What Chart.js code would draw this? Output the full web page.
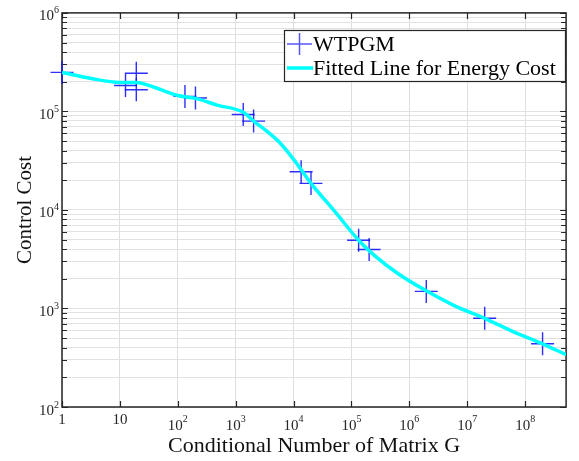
<!DOCTYPE html>
<html>
<head>
<meta charset="utf-8">
<script src="https://cdn.jsdelivr.net/npm/chart.js@4.4.0/dist/chart.umd.min.js"></script>
<style>
  html, body { margin: 0; padding: 0; background: #fff; }
  #wrap { width: 579px; height: 461px; position: relative; }
</style>
</head>
<body>
<div id="wrap"><canvas id="costChart"></canvas></div>
<script>
// measured points (WTPGM)
const xMeasured = [1, 12.5, 19.2, 19.2, 133, 202, 1350, 2040, 13500, 20000, 133000, 202000, 1.96e6, 2e7, 2e8];
const yMeasured = [2.49e5, 1.83e5, 2.44e5, 1.66e5, 1.42e5, 1.37e5, 9.3e4, 7.98e4, 2.44e4, 1.86e4, 4930, 3970, 1490, 795, 438];

// fitted line
const xFit = [1, 3.2, 10, 19.2, 40, 100, 218, 476, 1350, 2040, 3350, 5640, 10800, 20000, 51500, 133000, 245000, 650000, 1.96e6, 5.96e6, 2e7, 6.2e7, 2e8, 5.1e8];
const yFit = [2.49e5, 2.16e5, 1.97e5, 1.97e5, 1.75e5, 1.45e5, 1.34e5, 1.16e5, 9.8e4, 7.98e4, 6.4e4, 4.9e4, 3.08e4, 1.86e4, 9660, 4930, 3480, 2240, 1510, 1070, 794, 583, 438, 340];

// axis ticks
const xTickValues = [1, 10, 1e2, 1e3, 1e4, 1e5, 1e6, 1e7, 1e8];
const xTickLabels = ['1', '10', '10^2', '10^3', '10^4', '10^5', '10^6', '10^7', '10^8'];
const yTickValues = [1e2, 1e3, 1e4, 1e5, 1e6];
const yTickLabels = ['10^2', '10^3', '10^4', '10^5', '10^6'];
const yMinorTicks = [];
for (let e = 2; e < 6; e++) {
    for (let m = 2; m <= 9; m++) yMinorTicks.push(m * Math.pow(10, e));
}

const serif = '"Liberation Serif", "Times New Roman", serif';
const axisColor = '#262626';

function drawPowerLabel(ctx, label, x, y, align, supOffset) {
    const parts = label.split('^');
    ctx.font = '15px ' + serif;
    const baseW = ctx.measureText(parts[0]).width;
    let supW = 0;
    if (parts[1]) {
        ctx.font = '10px ' + serif;
        supW = ctx.measureText(parts[1]).width;
    }
    let start = align === 'center' ? x - (baseW + supW) / 2 : x - baseW - supW;
    ctx.textAlign = 'left';
    ctx.font = '15px ' + serif;
    ctx.fillText(parts[0], start, y);
    if (parts[1]) {
        ctx.font = '10px ' + serif;
        ctx.fillText(parts[1], start + baseW, y - supOffset);
    }
}

const framePlugin = {
    id: 'frame',
    beforeDatasetsDraw(chart) {
        const ctx = chart.ctx;
        const a = chart.chartArea;
        const xs = chart.scales.x;
        const ys = chart.scales.y;
        ctx.save();
        ctx.strokeStyle = axisColor;

        // ticks inside the box
        ctx.lineWidth = 1.2;
        ctx.beginPath();
        xTickValues.forEach(v => {
            const px = Math.round(xs.getPixelForValue(v)) + 0.5;
            ctx.moveTo(px, a.bottom); ctx.lineTo(px, a.bottom - 6);
            ctx.moveTo(px, a.top); ctx.lineTo(px, a.top + 6);
        });
        yTickValues.forEach(v => {
            const py = Math.round(ys.getPixelForValue(v)) + 0.5;
            ctx.moveTo(a.left, py); ctx.lineTo(a.left + 6, py);
            ctx.moveTo(a.right, py); ctx.lineTo(a.right - 6, py);
        });
        yMinorTicks.forEach(v => {
            const py = Math.round(ys.getPixelForValue(v)) + 0.5;
            ctx.moveTo(a.left, py); ctx.lineTo(a.left + 5, py);
            ctx.moveTo(a.right, py); ctx.lineTo(a.right - 5, py);
        });
        ctx.stroke();

        // box
        ctx.lineWidth = 1.5;
        ctx.strokeRect(a.left, a.top, a.right - a.left, a.bottom - a.top);
        ctx.restore();
    },
    afterDraw(chart) {
        const ctx = chart.ctx;
        const a = chart.chartArea;
        const xs = chart.scales.x;
        const ys = chart.scales.y;
        ctx.save();

        // tick labels
        ctx.fillStyle = axisColor;
        ctx.textBaseline = 'alphabetic';
        xTickValues.forEach((v, i) => {
            const px = xs.getPixelForValue(v);
            const lab = xTickLabels[i];
            const base = lab.indexOf('^') >= 0 ? a.bottom + 23 : a.bottom + 17;
            drawPowerLabel(ctx, lab, px, base, 'center', 8);
        });
        yTickValues.forEach((v, i) => {
            const py = ys.getPixelForValue(v);
            drawPowerLabel(ctx, yTickLabels[i], a.left - 3, py + 7.5, 'right', 7);
        });

        // axis titles
        ctx.fillStyle = '#111';
        ctx.font = '22px ' + serif;
        ctx.textAlign = 'center';
        ctx.fillText('Conditional Number of Matrix G', (a.left + a.right) / 2, 452);
        ctx.save();
        ctx.translate(31, (a.top + a.bottom) / 2);
        ctx.rotate(-Math.PI / 2);
        ctx.font = '21px ' + serif;
        ctx.fillText('Control Cost', 0, 0);
        ctx.restore();

        // legend
        const lx = 284.5, ly = 30.5, lw = 281, lh = 51;
        ctx.fillStyle = '#fff';
        ctx.fillRect(lx, ly, lw, lh);
        ctx.lineWidth = 1.2;
        ctx.strokeStyle = axisColor;
        ctx.strokeRect(lx, ly, lw, lh);

        ctx.strokeStyle = 'rgba(30, 30, 255, 0.75)';
        ctx.lineWidth = 1.5;
        ctx.beginPath();
        ctx.moveTo(287, 44); ctx.lineTo(312, 44);
        ctx.moveTo(299.5, 33); ctx.lineTo(299.5, 55);
        ctx.stroke();

        ctx.strokeStyle = '#00ffff';
        ctx.lineWidth = 3.5;
        ctx.beginPath();
        ctx.moveTo(287, 68); ctx.lineTo(313, 68);
        ctx.stroke();

        ctx.fillStyle = '#000';
        ctx.textAlign = 'left';
        ctx.font = '22px ' + serif;
        ctx.fillText('WTPGM', 313, 51);
        ctx.fillText('Fitted Line for Energy Cost', 313, 75);
        ctx.restore();
    }
};

const ctx = document.getElementById('costChart');
new Chart(ctx, {
    type: 'scatter',
    data: {
        datasets: [{
            label: 'Fitted Line for Energy Cost',
            data: xFit.map((v, i) => ({ x: v, y: yFit[i] })),
            showLine: true,
            borderColor: '#00ffff',
            borderWidth: 3.5,
            pointRadius: 0,
            cubicInterpolationMode: 'monotone',
            clip: 0
        }, {
            label: 'WTPGM',
            data: xMeasured.map((v, i) => ({ x: v, y: yMeasured[i] })),
            pointStyle: 'cross',
            pointRadius: 11.5,
            pointBorderWidth: 1.4,
            borderColor: 'rgba(10, 10, 255, 0.85)',
            backgroundColor: 'rgba(10, 10, 255, 0.85)',
            clip: false
        }]
    },
    options: {
        responsive: true,
        maintainAspectRatio: false,
        animation: false,
        layout: {
            padding: { left: 62, top: 10, right: 3, bottom: 54 }
        },
        plugins: {
            legend: { display: false },
            tooltip: { enabled: false }
        },
        scales: {
            x: {
                type: 'logarithmic',
                min: 1,
                max: 5.1e8,
                afterBuildTicks: axis => {
                    axis.ticks = xTickValues.map(v => ({ value: v }));
                },
                ticks: { display: false },
                border: { display: false },
                grid: { color: '#dedede', lineWidth: 1, drawTicks: false }
            },
            y: {
                type: 'logarithmic',
                min: 100,
                max: 1e6,
                afterBuildTicks: axis => {
                    axis.ticks = yTickValues.concat(yMinorTicks).sort((p, q) => p - q).map(v => ({ value: v }));
                },
                ticks: { display: false },
                border: { display: false },
                grid: { color: '#e2e2e2', lineWidth: 1, drawTicks: false }
            }
        }
    },
    plugins: [framePlugin]
});
</script>
</body>
</html>
